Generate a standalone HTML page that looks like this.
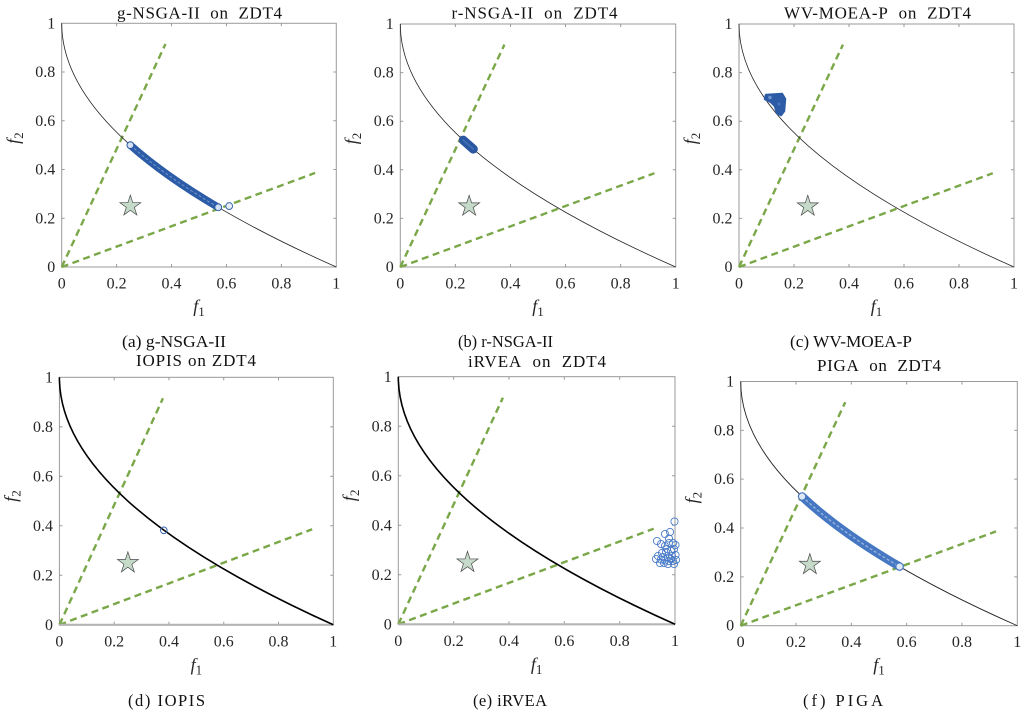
<!DOCTYPE html>
<html><head><meta charset="utf-8">
<style>
html,body{margin:0;padding:0;background:#fff}
svg{display:block}
text{font-family:"Liberation Serif","DejaVu Serif",serif}
</style>
</head><body>
<svg width="1024" height="713" viewBox="0 0 1024 713" xmlns="http://www.w3.org/2000/svg" xmlns:xlink="http://www.w3.org/1999/xlink">
<defs>
  <g id="base">
    <rect x="0" y="-244" width="275" height="244" fill="none" stroke="#9a9a9a" stroke-width="1"/>
    <path d="M55,0v-3M110,0v-3M165,0v-3M220,0v-3M55,-244v3M110,-244v3M165,-244v3M220,-244v3M0,-48.8h3M0,-97.6h3M0,-146.4h3M0,-195.2h3M275,-48.8h-3M275,-97.6h-3M275,-146.4h-3M275,-195.2h-3" stroke="#9a9a9a" stroke-width="1" fill="none"/>
    <path d="M0,0L103.95,-223.3M0,0L253.8,-94.2" stroke="#7aa748" stroke-width="2.4" stroke-dasharray="7 4.5" fill="none"/>
    <polygon transform="translate(68.75,-61)" points="0,-11 2.47,-3.4 10.46,-3.4 4,1.3 6.47,8.9 0,4.2 -6.47,8.9 -4,1.3 -10.46,-3.4 -2.47,-3.4" fill="#c6dac9" stroke="#4a4a4a" stroke-width="0.7"/>
  </g>
  <path id="pf" d="M0,-244 Q0,-122 275,0"/>
</defs>
<rect width="1024" height="713" fill="#fff"/>

<!-- Panel (a) -->
<g transform="translate(61.7,267) scale(0.9985,0.9988)">
  <use xlink:href="#base" href="#base"/>
  <use xlink:href="#pf" href="#pf" fill="none" stroke="#222" stroke-width="0.8"/>
  <path d="M68.75,-122 Q103.81,-90.89 156.75,-59.78" fill="none" stroke="#2c5ba7" stroke-width="7.5" stroke-linecap="round"/>
  <path d="M68.75,-122 Q103.81,-90.89 156.75,-59.78" fill="none" stroke="#86a6da" stroke-width="1" stroke-dasharray="3 2" opacity="0.8"/>
  <circle cx="68.75" cy="-122" r="3.4" fill="#d5e0f2" stroke="#2c5ba7" stroke-width="1"/>
  <circle cx="156.75" cy="-59.78" r="3.4" fill="#d5e0f2" stroke="#2c5ba7" stroke-width="1"/>
  <circle cx="167.75" cy="-61" r="3.4" fill="#e8eef8" stroke="#3a66b0" stroke-width="1"/>
  <g font-size="16" fill="#262626">
    <text x="0" y="21.5" text-anchor="middle">0</text>
    <text x="55" y="21.5" text-anchor="middle">0.2</text>
    <text x="110" y="21.5" text-anchor="middle">0.4</text>
    <text x="165" y="21.5" text-anchor="middle">0.6</text>
    <text x="220" y="21.5" text-anchor="middle">0.8</text>
    <text x="275" y="21.5" text-anchor="middle">1</text>
    <text x="-6.5" y="5" text-anchor="end">0</text>
    <text x="-6.5" y="-43.8" text-anchor="end">0.2</text>
    <text x="-6.5" y="-92.6" text-anchor="end">0.4</text>
    <text x="-6.5" y="-141.4" text-anchor="end">0.6</text>
    <text x="-6.5" y="-190.2" text-anchor="end">0.8</text>
    <text x="-6.5" y="-239" text-anchor="end">1</text>
  </g>
  <text x="137.5" y="45" text-anchor="middle" font-size="18" font-style="italic" fill="#262626">f<tspan font-style="normal" font-size="13" dy="4">1</tspan></text>
  <text transform="translate(-43,-129) rotate(-90)" text-anchor="middle" font-size="18" font-style="italic" fill="#262626">f<tspan font-style="normal" font-size="13" dy="4">2</tspan></text>
</g>

<!-- Panel (b) -->
<g transform="translate(400.3,267) scale(1.0015,0.9959)">
  <use xlink:href="#base" href="#base"/>
  <use xlink:href="#pf" href="#pf" fill="none" stroke="#222" stroke-width="0.8"/>
  <path d="M62.84,-127.37 L72.93,-118.34" fill="none" stroke="#2a57a0" stroke-width="9" stroke-linecap="round"/>
  <path d="M62.84,-127.37 L72.93,-118.34" fill="none" stroke="#3f6cb6" stroke-width="2" stroke-linecap="round"/>
  <g font-size="16" fill="#262626">
    <text x="0" y="21.5" text-anchor="middle">0</text>
    <text x="55" y="21.5" text-anchor="middle">0.2</text>
    <text x="110" y="21.5" text-anchor="middle">0.4</text>
    <text x="165" y="21.5" text-anchor="middle">0.6</text>
    <text x="220" y="21.5" text-anchor="middle">0.8</text>
    <text x="275" y="21.5" text-anchor="middle">1</text>
    <text x="-6.5" y="5" text-anchor="end">0</text>
    <text x="-6.5" y="-43.8" text-anchor="end">0.2</text>
    <text x="-6.5" y="-92.6" text-anchor="end">0.4</text>
    <text x="-6.5" y="-141.4" text-anchor="end">0.6</text>
    <text x="-6.5" y="-190.2" text-anchor="end">0.8</text>
    <text x="-6.5" y="-239" text-anchor="end">1</text>
  </g>
  <text x="137.5" y="45" text-anchor="middle" font-size="18" font-style="italic" fill="#262626">f<tspan font-style="normal" font-size="13" dy="4">1</tspan></text>
  <text transform="translate(-43,-129) rotate(-90)" text-anchor="middle" font-size="18" font-style="italic" fill="#262626">f<tspan font-style="normal" font-size="13" dy="4">2</tspan></text>
</g>

<!-- Panel (c) -->
<g transform="translate(739,267) scale(1,0.9959)">
  <use xlink:href="#base" href="#base"/>
  <use xlink:href="#pf" href="#pf" fill="none" stroke="#222" stroke-width="0.8"/>
  <g font-size="16" fill="#262626">
    <text x="0" y="21.5" text-anchor="middle">0</text>
    <text x="55" y="21.5" text-anchor="middle">0.2</text>
    <text x="110" y="21.5" text-anchor="middle">0.4</text>
    <text x="165" y="21.5" text-anchor="middle">0.6</text>
    <text x="220" y="21.5" text-anchor="middle">0.8</text>
    <text x="275" y="21.5" text-anchor="middle">1</text>
    <text x="-6.5" y="5" text-anchor="end">0</text>
    <text x="-6.5" y="-43.8" text-anchor="end">0.2</text>
    <text x="-6.5" y="-92.6" text-anchor="end">0.4</text>
    <text x="-6.5" y="-141.4" text-anchor="end">0.6</text>
    <text x="-6.5" y="-190.2" text-anchor="end">0.8</text>
    <text x="-6.5" y="-239" text-anchor="end">1</text>
  </g>
  <text x="137.5" y="45" text-anchor="middle" font-size="18" font-style="italic" fill="#262626">f<tspan font-style="normal" font-size="13" dy="4">1</tspan></text>
  <text transform="translate(-43,-129) rotate(-90)" text-anchor="middle" font-size="18" font-style="italic" fill="#262626">f<tspan font-style="normal" font-size="13" dy="4">2</tspan></text>
</g>
<path d="M766,95 L782,94 L785,99 L784,111 L781,115 L777,113 L775,106 L771,102 L765,99 Z" fill="#2d5ba6" stroke="#2d5ba6" stroke-width="2.5" stroke-linejoin="round"/>
<circle cx="770" cy="97.5" r="1.8" fill="#6d93d0"/>
<circle cx="779" cy="104" r="1.5" fill="#4a76c0"/>

<!-- Panel (d) -->
<g transform="translate(59.4,624.8) scale(0.996,1.0143)">
  <use xlink:href="#base" href="#base"/>
  <line x1="0" y1="0" x2="275" y2="0" stroke="#b5b5b5" stroke-width="2"/>
  <use xlink:href="#pf" href="#pf" fill="none" stroke="#000" stroke-width="1.6"/>
  <g font-size="16" fill="#262626">
    <text x="0" y="21.5" text-anchor="middle">0</text>
    <text x="55" y="21.5" text-anchor="middle">0.2</text>
    <text x="110" y="21.5" text-anchor="middle">0.4</text>
    <text x="165" y="21.5" text-anchor="middle">0.6</text>
    <text x="220" y="21.5" text-anchor="middle">0.8</text>
    <text x="275" y="21.5" text-anchor="middle">1</text>
    <text x="-6.5" y="5" text-anchor="end">0</text>
    <text x="-6.5" y="-43.8" text-anchor="end">0.2</text>
    <text x="-6.5" y="-92.6" text-anchor="end">0.4</text>
    <text x="-6.5" y="-141.4" text-anchor="end">0.6</text>
    <text x="-6.5" y="-190.2" text-anchor="end">0.8</text>
    <text x="-6.5" y="-239" text-anchor="end">1</text>
  </g>
  <text x="137.5" y="45" text-anchor="middle" font-size="18" font-style="italic" fill="#262626">f<tspan font-style="normal" font-size="13" dy="4">1</tspan></text>
  <text transform="translate(-43,-127) rotate(-90)" text-anchor="middle" font-size="18" font-style="italic" fill="#262626">f<tspan font-style="normal" font-size="13" dy="4">2</tspan></text>
</g>
<circle cx="163.8" cy="530.3" r="3.3" fill="none" stroke="#3a66b0" stroke-width="1"/>

<!-- Panel (e) -->
<g transform="translate(398.3,624.3) scale(1.0062,1.0148)">
  <use xlink:href="#base" href="#base"/>
  <line x1="0" y1="0" x2="275" y2="0" stroke="#b5b5b5" stroke-width="2"/>
  <use xlink:href="#pf" href="#pf" fill="none" stroke="#000" stroke-width="1.6"/>
  <g font-size="16" fill="#262626">
    <text x="0" y="21.5" text-anchor="middle">0</text>
    <text x="55" y="21.5" text-anchor="middle">0.2</text>
    <text x="110" y="21.5" text-anchor="middle">0.4</text>
    <text x="165" y="21.5" text-anchor="middle">0.6</text>
    <text x="220" y="21.5" text-anchor="middle">0.8</text>
    <text x="275" y="21.5" text-anchor="middle">1</text>
    <text x="-6.5" y="5" text-anchor="end">0</text>
    <text x="-6.5" y="-43.8" text-anchor="end">0.2</text>
    <text x="-6.5" y="-92.6" text-anchor="end">0.4</text>
    <text x="-6.5" y="-141.4" text-anchor="end">0.6</text>
    <text x="-6.5" y="-190.2" text-anchor="end">0.8</text>
    <text x="-6.5" y="-239" text-anchor="end">1</text>
  </g>
  <text x="137.5" y="45" text-anchor="middle" font-size="18" font-style="italic" fill="#262626">f<tspan font-style="normal" font-size="13" dy="4">1</tspan></text>
  <text transform="translate(-43,-127) rotate(-90)" text-anchor="middle" font-size="18" font-style="italic" fill="#262626">f<tspan font-style="normal" font-size="13" dy="4">2</tspan></text>
</g>
<g fill="none" stroke="#4a7cc8" stroke-width="0.9">
  <circle cx="674.5" cy="521.5" r="3.6"/><circle cx="670" cy="532" r="3.6"/><circle cx="665" cy="534" r="3.6"/>
  <circle cx="669" cy="538.5" r="3.6"/><circle cx="657" cy="541" r="3.6"/><circle cx="661" cy="544" r="3.6"/>
  <circle cx="665" cy="546" r="3.6"/><circle cx="669" cy="543" r="3.6"/><circle cx="673" cy="543" r="3.6"/>
  <circle cx="675.5" cy="545" r="3.6"/><circle cx="674" cy="549" r="3.6"/><circle cx="671" cy="551" r="3.6"/>
  <circle cx="666" cy="552" r="3.6"/><circle cx="662" cy="553" r="3.6"/><circle cx="675.5" cy="555" r="3.6"/>
  <circle cx="672" cy="556" r="3.6"/><circle cx="668" cy="557.5" r="3.6"/><circle cx="658" cy="556" r="3.6"/>
  <circle cx="661" cy="559.5" r="3.6"/><circle cx="665" cy="560.5" r="3.6"/><circle cx="669" cy="561" r="3.6"/>
  <circle cx="673" cy="561" r="3.6"/><circle cx="676" cy="560" r="3.6"/><circle cx="664" cy="563" r="3.6"/>
  <circle cx="668" cy="564" r="3.6"/><circle cx="671" cy="559" r="3.6"/><circle cx="674" cy="564" r="3.6"/>
  <circle cx="656" cy="559" r="3.6"/><circle cx="660" cy="563" r="3.6"/><circle cx="667" cy="549" r="3.6"/>
  <circle cx="663" cy="557" r="3.6"/>
</g>

<!-- Panel (f) -->
<g transform="translate(740.7,625.7) scale(1.0058,1.0008)">
  <use xlink:href="#base" href="#base"/>
  <use xlink:href="#pf" href="#pf" fill="none" stroke="#222" stroke-width="0.9"/>
  <path d="M61,-129.08 Q98.18,-94.06 158,-59.05" fill="none" stroke="#4677c2" stroke-width="8.5" stroke-linecap="round"/>
  <path d="M61,-129.08 Q98.18,-94.06 158,-59.05" fill="none" stroke="#93b2e0" stroke-width="1.4" stroke-dasharray="3 2"/>
  <circle cx="61" cy="-129.08" r="3.6" fill="#dfe8f6" stroke="#4677c2" stroke-width="1"/>
  <circle cx="158" cy="-59.05" r="3.6" fill="#dfe8f6" stroke="#4677c2" stroke-width="1"/>
  <g font-size="16" fill="#262626">
    <text x="0" y="21.5" text-anchor="middle">0</text>
    <text x="55" y="21.5" text-anchor="middle">0.2</text>
    <text x="110" y="21.5" text-anchor="middle">0.4</text>
    <text x="165" y="21.5" text-anchor="middle">0.6</text>
    <text x="220" y="21.5" text-anchor="middle">0.8</text>
    <text x="275" y="21.5" text-anchor="middle">1</text>
    <text x="-6.5" y="5" text-anchor="end">0</text>
    <text x="-6.5" y="-43.8" text-anchor="end">0.2</text>
    <text x="-6.5" y="-92.6" text-anchor="end">0.4</text>
    <text x="-6.5" y="-141.4" text-anchor="end">0.6</text>
    <text x="-6.5" y="-190.2" text-anchor="end">0.8</text>
    <text x="-6.5" y="-239" text-anchor="end">1</text>
  </g>
  <text x="137.5" y="45" text-anchor="middle" font-size="18" font-style="italic" fill="#262626">f<tspan font-style="normal" font-size="13" dy="4">1</tspan></text>
  <text transform="translate(-43,-128) rotate(-90)" text-anchor="middle" font-size="18" font-style="italic" fill="#262626">f<tspan font-style="normal" font-size="13" dy="4">2</tspan></text>
</g>

<!-- Titles -->
<g font-size="17" fill="#111" text-anchor="middle">
  <text x="199.5" y="18.5" textLength="165" lengthAdjust="spacing">g-NSGA-II&#160; on&#160; ZDT4</text>
  <text x="534.5" y="18.5" textLength="166" lengthAdjust="spacing">r-NSGA-II&#160; on&#160; ZDT4</text>
  <text x="877.5" y="18.5" textLength="187" lengthAdjust="spacing">WV-MOEA-P&#160; on&#160; ZDT4</text>
  <text x="196" y="366" textLength="120" lengthAdjust="spacing">IOPIS on ZDT4</text>
  <text x="537" y="367" textLength="138" lengthAdjust="spacing">iRVEA&#160; on&#160; ZDT4</text>
  <text x="879" y="371" textLength="124" lengthAdjust="spacing">PIGA&#160; on&#160; ZDT4</text>
</g>

<!-- Captions -->
<g font-size="16.5" fill="#111" text-anchor="middle">
  <text x="174" y="347" textLength="104" lengthAdjust="spacingAndGlyphs">(a) g-NSGA-II</text>
  <text x="505.5" y="347" textLength="95" lengthAdjust="spacingAndGlyphs">(b) r-NSGA-II</text>
  <text x="851" y="347" textLength="122" lengthAdjust="spacingAndGlyphs">(c) WV-MOEA-P</text>
  <text x="166.5" y="706" textLength="77" lengthAdjust="spacing">(d) IOPIS</text>
  <text x="510" y="706" textLength="74" lengthAdjust="spacing">(e) iRVEA</text>
  <text x="843" y="706" textLength="80" lengthAdjust="spacing">(f) PIGA</text>
</g>
</svg>
</body></html>
